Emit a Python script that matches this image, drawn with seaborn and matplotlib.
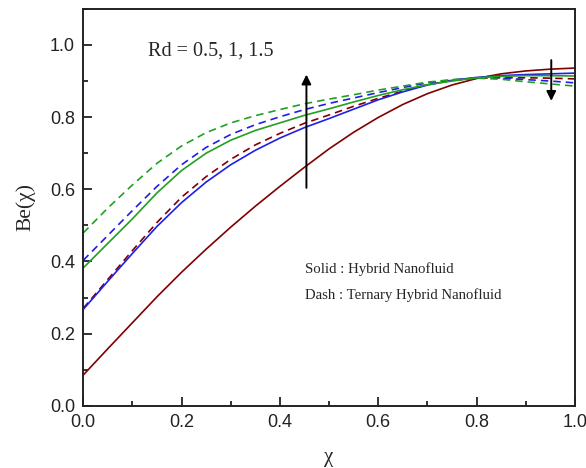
import numpy as np
import pandas as pd
import matplotlib
matplotlib.use("Agg")
import matplotlib.pyplot as plt
from matplotlib.ticker import MultipleLocator
import seaborn as sns

chi = [0.0, 0.05, 0.1, 0.15, 0.2, 0.25, 0.3, 0.35, 0.4, 0.45, 0.5,
       0.55, 0.6, 0.65, 0.7, 0.75, 0.8, 0.85, 0.9, 0.95, 1.0]

# Solid: Hybrid nanofluid
hyb_rd05 = [0.085, 0.158, 0.230, 0.302, 0.370, 0.434, 0.495, 0.553, 0.608, 0.661, 0.712,
            0.758, 0.799, 0.835, 0.865, 0.889, 0.907, 0.920, 0.928, 0.933, 0.936]
hyb_rd1 = [0.267, 0.345, 0.422, 0.497, 0.563, 0.620, 0.668, 0.708, 0.742, 0.771, 0.796,
           0.822, 0.848, 0.870, 0.889, 0.902, 0.910, 0.915, 0.918, 0.920, 0.922]
hyb_rd15 = [0.382, 0.450, 0.518, 0.590, 0.652, 0.700, 0.736, 0.763, 0.784, 0.805, 0.823,
            0.842, 0.860, 0.876, 0.890, 0.900, 0.909, 0.913, 0.915, 0.915, 0.914]
# Dash: Ternary hybrid nanofluid
ter_rd05 = [0.270, 0.350, 0.430, 0.508, 0.578, 0.635, 0.683, 0.723, 0.755, 0.783, 0.806,
            0.830, 0.852, 0.872, 0.890, 0.902, 0.908, 0.909, 0.909, 0.908, 0.906]
ter_rd1 = [0.403, 0.472, 0.541, 0.608, 0.668, 0.716, 0.752, 0.779, 0.801, 0.821, 0.838,
           0.853, 0.868, 0.882, 0.895, 0.903, 0.908, 0.908, 0.904, 0.900, 0.895]
ter_rd15 = [0.479, 0.548, 0.612, 0.672, 0.720, 0.757, 0.784, 0.804, 0.821, 0.837, 0.850,
            0.862, 0.875, 0.886, 0.897, 0.904, 0.908, 0.905, 0.898, 0.892, 0.886]

rd_values = ["0.5", "1", "1.5"]
x_ticks = [0.0, 0.2, 0.4, 0.6, 0.8, 1.0]
x_ticklabels = ["0.0", "0.2", "0.4", "0.6", "0.8", "1.0"]
y_ticks = [0.0, 0.2, 0.4, 0.6, 0.8, 1.0]
y_ticklabels = ["0.0", "0.2", "0.4", "0.6", "0.8", "1.0"]

series = {
    ("Hybrid", "0.5"): hyb_rd05, ("Hybrid", "1"): hyb_rd1, ("Hybrid", "1.5"): hyb_rd15,
    ("Ternary", "0.5"): ter_rd05, ("Ternary", "1"): ter_rd1, ("Ternary", "1.5"): ter_rd15,
}
rows = []
for (fluid, rd), vals in series.items():
    for x, y in zip(chi, vals):
        rows.append({"chi": x, "Be": y, "Rd": rd, "fluid": fluid})
df = pd.DataFrame(rows)

sns.set_style("ticks")
plt.rcParams["font.family"] = ["Liberation Sans", "DejaVu Sans"]

fig = plt.figure(figsize=(5.86, 4.68), dpi=100)
ax = fig.add_axes([0.142, 0.133, 0.839, 0.848])

palette = {"0.5": "#800000", "1": "#1f1fe6", "1.5": "#22a022"}
sns.lineplot(data=df, x="chi", y="Be", hue="Rd", style="fluid",
             palette=palette, hue_order=rd_values,
             dashes={"Hybrid": "", "Ternary": (4.5, 3)},
             style_order=["Hybrid", "Ternary"],
             linewidth=1.2, legend=False, ax=ax)

ax.set_xlim(0, 1.0)
ax.set_ylim(0, 1.1)
ax.set_xticks(x_ticks)
ax.set_xticklabels(x_ticklabels)
ax.set_yticks(y_ticks)
ax.set_yticklabels(y_ticklabels)
ax.xaxis.set_minor_locator(MultipleLocator(0.1))
ax.yaxis.set_minor_locator(MultipleLocator(0.1))
ax.tick_params(which="both", direction="in", top=False, right=False,
               width=1.3, colors="#222222", labelsize=13, pad=6)
ax.tick_params(which="major", length=6.5)
ax.tick_params(which="minor", length=3.5)
for s in ax.spines.values():
    s.set_linewidth(1.4)
    s.set_color("#222222")

ax.set_xlabel("χ", family=["Liberation Serif"], fontsize=15, labelpad=12)
ax.set_ylabel("Be(χ)", family=["Liberation Serif"], fontsize=15.5, labelpad=10)

ax.text(0.131, 0.982, "Rd = 0.5, 1, 1.5", family=["Liberation Serif"], fontsize=14.5,
        va="center", ha="left")
ax.text(0.451, 0.378, "Solid : Hybrid Nanofluid", family=["Liberation Serif"],
        fontsize=10.6, va="center", ha="left")
ax.text(0.451, 0.307, "Dash : Ternary Hybrid Nanofluid", family=["Liberation Serif"],
        fontsize=10.6, va="center", ha="left")

ax.annotate("", xy=(0.454, 0.918), xytext=(0.454, 0.604),
            arrowprops=dict(arrowstyle="-|>", color="black", lw=1.4,
                            mutation_scale=14, shrinkA=0, shrinkB=0))
ax.annotate("", xy=(0.952, 0.845), xytext=(0.952, 0.958),
            arrowprops=dict(arrowstyle="-|>", color="black", lw=1.4,
                            mutation_scale=14, shrinkA=0, shrinkB=0))

fig.savefig("out.png", dpi=100)
